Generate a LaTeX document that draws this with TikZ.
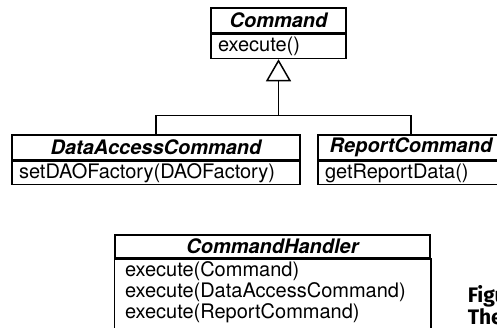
\documentclass[tikz,border=0pt]{standalone}
\usepackage{fontspec}
\setmainfont{TeX Gyre Heros}
\newfontfamily\capfont{Fira Sans}
\usetikzlibrary{arrows.meta}

\begin{document}
\begin{tikzpicture}[x=0.5pt, y=-0.5pt, line width=0.75pt,
  font=\fontsize{10}{10.5}\selectfont,
  cname/.style={draw, rectangle, font=\fontsize{10}{10.5}\selectfont\bfseries\itshape,
                inner sep=0pt, minimum width=#1, minimum height=12.5pt},
  cops/.style={draw, rectangle, align=left, anchor=north, inner xsep=3.5pt,
               inner ysep=0pt, text width=#1, minimum height=12pt},
  capt/.style={font=\capfont\fontsize{10.5}{11}\selectfont\bfseries, anchor=base west, inner sep=0pt},
  inherit/.style={-{Triangle[open, width=12.5pt, length=11pt]}}]

  \useasboundingbox (0,0) rectangle (497,327);
  \clip (0,0) rectangle (497,327);

  \node[cname=67.5pt]  (cmd)    at (278.5,20.5) {Command};
  \node[cops=60.5pt]   (cmdops) at (cmd.south)  {execute()};

  \node[cname=144pt]   (dac)    at (156,147.5)  {DataAccessCommand};
  \node[cops=137pt, minimum height=11.5pt] (dacops) at (dac.south) {setDAOFactory(DAOFactory)};

  \node[cname=93pt]    (rep)    at (411,147.5)  {ReportCommand};
  \node[cops=86pt, minimum height=11.5pt]  (repops) at (rep.south) {getReportData()};

  \node[cname=157.5pt, minimum height=11.5pt] (hdl) at (272.5,246.5) {CommandHandler};
  \node[cops=147.5pt, draw=none, inner xsep=5pt, inner ysep=1pt] (hdlops) at (hdl.south)
    {execute(Command)\\execute(DataAccessCommand)\\execute(ReportCommand)};
  \draw (hdl.south west) rectangle ([yshift=-45pt]hdl.south east);

  \node[capt] (fig)    at (467,302) {Figure};
  \node[capt] (figtxt) at (467,324) {The};

  \path (cmdops.south) ++(0,56) coordinate (joint);
  \draw[inherit] (joint) -- (cmdops.south);
  \draw (dac.north) |- (joint) -| (rep.north);

\end{tikzpicture}
\end{document}
